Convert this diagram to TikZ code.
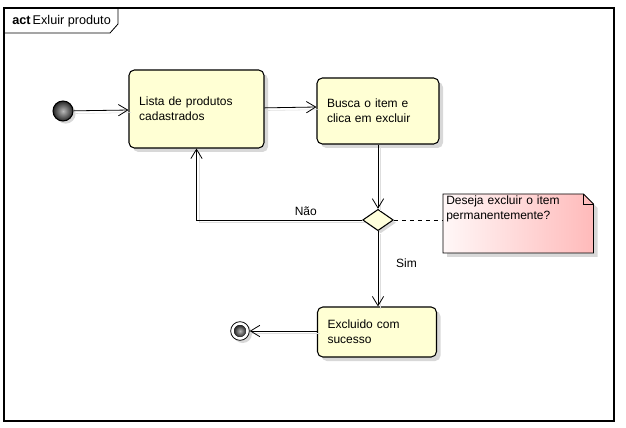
\documentclass[tikz,border=0pt]{standalone}
\usepackage{fontspec}
\setmainfont{Liberation Sans}
\usetikzlibrary{arrows.meta}
\usetikzlibrary{shapes.geometric}
\usetikzlibrary{shadows}
\usetikzlibrary{backgrounds}
\usetikzlibrary{positioning}
\tikzset{x=0.75pt,y=-0.75pt,
    every node/.style={
        font=\fontsize{9}{11.25}\selectfont},
    lineshadow/.style={
        preaction={draw=black!13,-,transform canvas={shift={(2pt,-2pt)}}}},
    action/.style={
        draw,thick,
        rounded corners=4pt,
        align=left,
        inner xsep=7.5pt,
        left color={rgb,255:red,255;green,255;blue,212},
        middle color={rgb,255:red,255;green,255;blue,238},
        right color={rgb,255:red,255;green,255;blue,212},
        drop shadow={shadow xshift=3pt,shadow yshift=-3pt,fill=black!30,opacity=0.5}},
    decision/.style={
        diamond,draw,thick,
        aspect=1.5,
        inner sep=0pt,
        minimum width=23pt,minimum height=16pt,
        fill={rgb,255:red,255;green,255;blue,220},
        drop shadow={shadow xshift=2pt,shadow yshift=-2pt,fill=black!30,opacity=0.5}},
    initialnode/.style={
        circle,draw,thick,
        minimum size=15pt,inner sep=0pt,
        inner color=gray!55,outer color=black!85,
        drop shadow={shadow xshift=2pt,shadow yshift=-2pt,fill=black!30,opacity=0.5}},
    finalnode/.style={
        circle,draw,semithick,
        minimum size=14pt,inner sep=0pt,fill=white,
        drop shadow={shadow xshift=2pt,shadow yshift=-2pt,fill=black!30,opacity=0.5}},
    notebox/.style={
        align=left,anchor=north west,
        inner sep=1.5pt,
        text width=108pt},
    every edge/.style={
        draw,
        -{Straight Barb[length=7pt,width=8.5pt]},
        semithick,
        lineshadow}}

\begin{document}
\begin{tikzpicture}
    \useasboundingbox (0,0) rectangle (626,428);

    \draw[thick] (4,8) rectangle (614,421);
    \draw[semithick] (4,33) -- (110,33) -- (118,24) -- (118,8);
    \node[anchor=west,inner sep=0pt,font=\fontsize{9.5}{11}\selectfont] (title) at (12,21) {\textbf{act}\,Exluir produto};

    \node[initialnode] (start) at (63,111) {};
    \node[action,minimum width=101.25pt,minimum height=58.5pt,text width=86pt] (lista) at (196.5,109) {Lista de produtos\\cadastrados};
    \node[action,minimum width=91.5pt,minimum height=49.5pt,text width=76.5pt] (busca) at (378,111) {Busca o item e\\clica em excluir};
    \node[decision] (dec) at (378,220) {};
    \node[action,minimum width=89.25pt,minimum height=37.5pt,text width=74.25pt] (excl) at (377,332) {Excluido com\\sucesso};
    \node[finalnode] (fim) at (240,331) {};
    \fill[inner color=gray!55,outer color=black!85] (fim) circle (4.5pt);

    \node[notebox,minimum width=112.5pt] (note) at (443,194) {Deseja excluir o item\\permanentemente?};
    \begin{scope}[on background layer]
        \path[draw,semithick,left color=red!3,right color=red!27,
            drop shadow={shadow xshift=3pt,shadow yshift=-3pt,fill=black!30,opacity=0.5}]
            (note.north west) -- ([xshift=-7.5pt]note.north east) -- ([yshift=-7.5pt]note.north east)
            -- ([yshift=-44.25pt]note.north east) -- ([yshift=-44.25pt]note.north west) -- cycle;
        \draw[semithick] ([xshift=-7.5pt]note.north east) -- ([xshift=-7.5pt,yshift=-7.5pt]note.north east) -- ([yshift=-7.5pt]note.north east);
    \end{scope}

    \draw (start) edge (lista);
    \draw (lista) edge ([yshift=1.5pt]lista.east -| busca.west);
    \draw (busca) edge (dec);
    \draw (dec) edge node[right=10pt,pos=0.42] {Sim} (dec.south |- excl.north);
    \draw (excl.west |- fim) edge (fim);
    \draw[semithick,lineshadow,-{Straight Barb[length=7pt,width=8.5pt]}] (dec.west) -| node[above,pos=0.17] {Não} (lista.south);
    \draw[semithick,dashed] (dec.east) -- (dec.east -| note.west);
\end{tikzpicture}
\end{document}
